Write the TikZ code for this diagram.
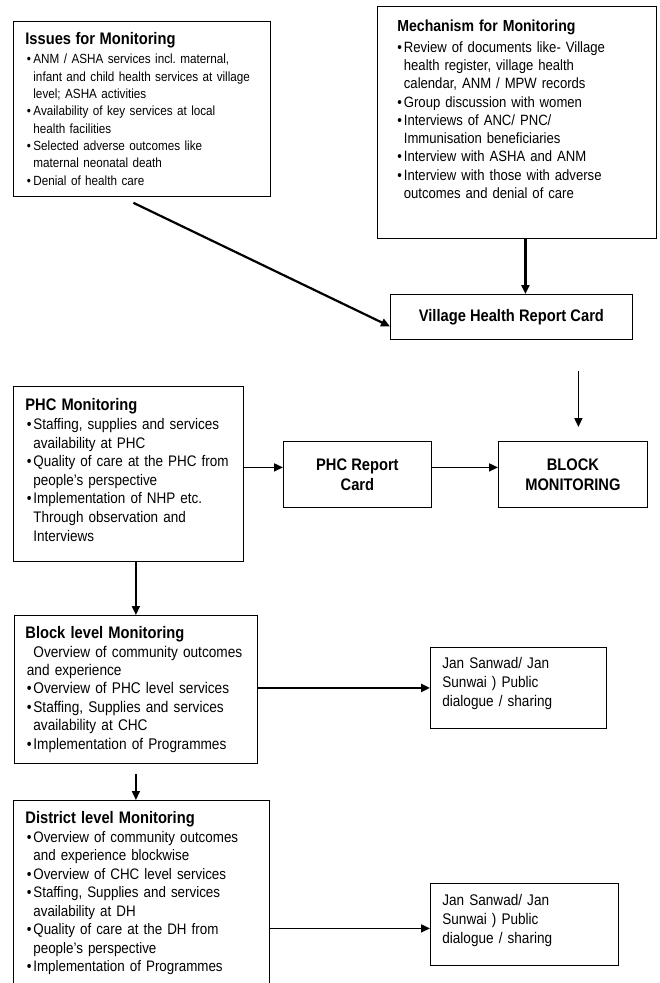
\documentclass[tikz,border=0pt]{standalone}
\usepackage{fontspec}
\setmainfont{Liberation Sans}[FakeStretch=0.88]
\usetikzlibrary{arrows.meta}
\frenchspacing
\newlength{\hng}\setlength{\hng}{8pt}
\newlength{\bof}\setlength{\bof}{1.5pt}
\newcommand{\bu}{\makebox[\hng][l]{\hspace{\bof}\textbullet}}
\newcommand{\cn}{\hspace*{\hng}}
\newcommand{\dn}[1]{\rule[-#1]{0pt}{#1}}
\newcommand{\ttl}{\fontsize{16.7}{20}\selectfont\bfseries}
\newcommand{\sml}{\fontsize{13.3}{17.3}\selectfont}
\newcommand{\mch}{\fontsize{14.9}{18.3}\selectfont}
\newcommand{\phf}{\fontsize{15.3}{18.6}\selectfont}
\newcommand{\blf}{\fontsize{15.5}{18.4}\selectfont}
\newcommand{\dsf}{\fontsize{15.2}{18.5}\selectfont}
\newcommand{\jan}{\fontsize{15.4}{19}\selectfont}
\begin{document}
\begin{tikzpicture}[x=1pt,y=-1pt,
box/.style={draw,line width=0.8pt,anchor=north west,align=left,inner xsep=12pt,inner ysep=0pt},
card/.style={draw,line width=0.8pt,anchor=north west,align=center,font=\ttl},
arr/.style={-{Triangle[length=9pt,width=8pt]},line width=1.6pt}]
\useasboundingbox (0,0) rectangle (659,983);
\clip (0,0) rectangle (659,983);
\node[box,font=\sml,text width=233pt,minimum height=175pt] (iss) at (13,21) {{\ttl Issues for Monitoring}\\[2pt]
\bu ANM / ASHA services incl. maternal,\\ \cn infant and child health services at village\\ \cn level; ASHA activities\\
\bu Availability of key services at local\\ \cn health facilities\\
\bu Selected adverse outcomes like\\ \cn maternal neonatal death\\
\bu Denial of health care};
\node[box,font=\mch,inner xsep=20pt,text width=239pt,minimum height=232pt] (mech) at (377,6) {\setlength{\hng}{6.5pt}\setlength{\bof}{0pt}{\ttl\fontsize{16}{20}\selectfont Mechanism for Monitoring}\\[2pt]
\bu Review of documents like- Village\\ \cn health register, village health\\ \cn calendar, ANM / MPW records\\
\bu Group discussion with women\\
\bu Interviews of ANC/ PNC/\\ \cn Immunisation beneficiaries\\
\bu Interview with ASHA and ANM\\
\bu Interview with those with adverse\\ \cn outcomes and denial of care\dn{26pt}};
\node[card,minimum width=242pt,minimum height=45pt] (vil) at (390,294) {Village Health Report Card};
\node[box,font=\phf,text width=206pt,minimum height=175pt] (phc) at (13,386) {{\ttl PHC Monitoring}\\
\bu Staffing, supplies and services\\ \cn availability at PHC\\
\bu Quality of care at the PHC from\\ \cn people’s perspective\\
\bu Implementation of NHP etc.\\ \cn Through observation and\\ \cn Interviews\dn{8pt}};
\node[card,minimum width=148pt,minimum height=66pt] (phcc) at (283,441) {PHC Report\\Card};
\node[card,minimum width=149pt,minimum height=66pt] (blk) at (498,441) {BLOCK\\MONITORING};
\node[box,font=\blf,inner xsep=11pt,text width=221pt,minimum height=148pt] (bll) at (14,615) {{\ttl Block level Monitoring}\\
\cn Overview of community outcomes\\ \hspace*{1.5pt}and experience\\
\bu Overview of PHC level services\\
\bu Staffing, Supplies and services\\ \cn availability at CHC\\
\bu Implementation of Programmes};
\node[box,font=\jan,text width=152pt,minimum height=81pt] (jan1) at (430,647) {Jan Sanwad/ Jan\\Sunwai ) Public\\dialogue / sharing\dn{12pt}};
\node[box,font=\dsf,inner ysep=11pt,text width=232pt] (dis) at (13,800) {{\ttl District level Monitoring}\\
\bu Overview of community outcomes\\ \cn and experience blockwise\\
\bu Overview of CHC level services\\
\bu Staffing, Supplies and services\\ \cn availability at DH\\
\bu Quality of care at the DH from\\ \cn people’s perspective\\
\bu Implementation of Programmes\dn{30pt}};
\node[box,font=\jan,text width=164pt,minimum height=82pt] (jan2) at (430,883) {Jan Sanwad/ Jan\\Sunwai ) Public\\dialogue / sharing\dn{11pt}};
\coordinate (m1) at ([xshift=8.5pt]mech.south);
\coordinate (v0) at ([yshift=-31pt]vil.south);\coordinate (v1) at ([xshift=5.5pt,yshift=14pt]blk.north);
\coordinate (p1) at ([yshift=7pt]phcc.west);
\coordinate (b1) at ([yshift=-10pt]bll.south);
\coordinate (d1) at ([yshift=-4pt]jan2.west);
\draw[arr,line width=2.2pt] ([xshift=-8.5pt,yshift=-6pt]iss.south)--([yshift=-9.5pt]vil.west);
\draw[arr,line width=2.6pt] (m1)--(m1 |- vil.north);
\draw[arr] (v0 -| v1)--(v1);
\draw[arr] (p1 -| phc.east)--(p1);\draw[arr] (p1 -| phcc.east)--(p1 -| blk.west);
\draw[arr] (phc.south -| bll.north)--(bll.north);
\draw[arr,line width=2.6pt] (jan1.west -| bll.east)--(jan1.west);
\draw[arr] (b1)--(b1 |- dis.north);
\draw[arr] (d1 -| dis.east)--(d1);
\end{tikzpicture}
\end{document}
